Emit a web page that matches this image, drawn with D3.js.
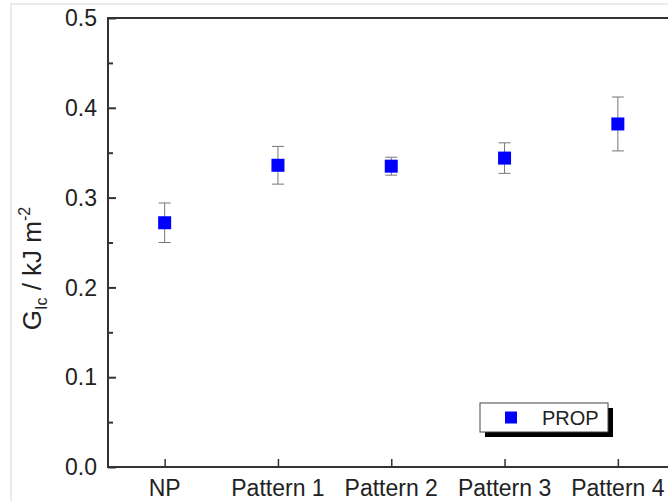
<!DOCTYPE html>
<html>
<head>
<meta charset="utf-8">
<script src="https://cdn.jsdelivr.net/npm/d3@7"></script>
<style>
  body { margin: 0; background: #fff; }
  svg { display: block; font-family: "Liberation Sans", Arial, sans-serif; }
</style>
</head>
<body>
<svg id="chart" width="668" height="501"></svg>
<script>
// data
const categories = ["NP", "Pattern 1", "Pattern 2", "Pattern 3", "Pattern 4"];
const values = [0.272, 0.336, 0.335, 0.344, 0.382];
const errors = [0.022, 0.021, 0.010, 0.017, 0.030];
const yTicks = [0.0, 0.1, 0.2, 0.3, 0.4, 0.5];
const yMinor = [0.05, 0.15, 0.25, 0.35, 0.45];
const seriesName = "PROP";

const svg = d3.select("#chart");

const mLeft = 108, mTop = 18, mBottom = 467, step = 113.3;
const mRight = mLeft + step * categories.length;

const x = d3.scalePoint().domain(categories).range([mLeft, mRight]).padding(0.5);
const y = d3.scaleLinear().domain([0, 0.5]).range([mBottom, mTop]);

// faint outer picture frame
svg.append("rect")
    .attr("x", 11).attr("y", 4)
    .attr("width", 700).attr("height", 600)
    .attr("fill", "none").attr("stroke", "#d8d8d8").attr("stroke-width", 1);

// y axis (ticks pointing inside)
const yAxis = svg.append("g")
    .attr("transform", `translate(${mLeft},0)`)
    .call(d3.axisRight(y).tickValues(yTicks).tickSize(8).tickFormat(""));
yAxis.select(".domain").remove();
yAxis.selectAll("line").attr("stroke", "#333").attr("stroke-width", 2);

const yMin = svg.append("g")
    .attr("transform", `translate(${mLeft},0)`)
    .call(d3.axisRight(y).tickValues(yMinor).tickSize(5).tickFormat(""));
yMin.select(".domain").remove();
yMin.selectAll("line").attr("stroke", "#333").attr("stroke-width", 2);

svg.append("g").selectAll("text")
    .data(yTicks)
    .join("text")
    .attr("x", 97)
    .attr("y", d => y(d))
    .attr("dy", "0.36em")
    .attr("text-anchor", "end")
    .attr("font-size", 23)
    .attr("fill", "#222")
    .text(d3.format(".1f"));

// x axis (ticks pointing up)
const xAxis = svg.append("g")
    .attr("transform", `translate(0,${mBottom})`)
    .call(d3.axisTop(x).tickSize(8).tickFormat(""));
xAxis.select(".domain").remove();
xAxis.selectAll("line").attr("stroke", "#333").attr("stroke-width", 1.5);

svg.append("g").selectAll("text")
    .data(categories)
    .join("text")
    .attr("x", d => x(d))
    .attr("y", 496)
    .attr("text-anchor", "middle")
    .attr("font-size", 23)
    .attr("fill", "#222")
    .text(d => d);

// frame: left, top, bottom
svg.append("path")
    .attr("d", `M${mRight + 20},${mTop}H${mLeft}V${mBottom}H${mRight + 20}`)
    .attr("fill", "none").attr("stroke", "#333").attr("stroke-width", 2);

// y label
const yl = svg.append("text")
    .attr("transform", `translate(41,${(mTop + mBottom) / 2 + 26}) rotate(-90)`)
    .attr("text-anchor", "middle")
    .attr("font-size", 26)
    .attr("fill", "#222");
yl.append("tspan").text("G");
yl.append("tspan").attr("font-size", 16).attr("dy", 6).text("Ic");
yl.append("tspan").attr("dy", -6).text(" / kJ m");
yl.append("tspan").attr("font-size", 16).attr("dy", -11).text("-2");

// error bars
const pts = categories.map((c, i) => ({ c, v: values[i], e: errors[i] }));
const eb = svg.append("g").attr("stroke", "#777").attr("stroke-width", 1);
eb.selectAll("line.v").data(pts).join("line").attr("class", "v")
    .attr("x1", d => x(d.c)).attr("x2", d => x(d.c))
    .attr("y1", d => y(d.v - d.e)).attr("y2", d => y(d.v + d.e));
eb.selectAll("line.t").data(pts).join("line").attr("class", "t")
    .attr("x1", d => x(d.c) - 6).attr("x2", d => x(d.c) + 6)
    .attr("y1", d => y(d.v + d.e)).attr("y2", d => y(d.v + d.e));
eb.selectAll("line.b").data(pts).join("line").attr("class", "b")
    .attr("x1", d => x(d.c) - 6).attr("x2", d => x(d.c) + 6)
    .attr("y1", d => y(d.v - d.e)).attr("y2", d => y(d.v - d.e));

// markers
svg.append("g").selectAll("rect")
    .data(pts)
    .join("rect")
    .attr("x", d => x(d.c) - 6.5)
    .attr("y", d => y(d.v) - 6.5)
    .attr("width", 13).attr("height", 13)
    .attr("fill", "#0000ff");

// legend
const lg = svg.append("g").attr("transform", "translate(480,403)");
lg.append("rect").attr("x", 5).attr("y", 5).attr("width", 128).attr("height", 29).attr("fill", "#000");
lg.append("rect").attr("width", 128).attr("height", 29).attr("fill", "#fff").attr("stroke", "#444").attr("stroke-width", 1);
lg.append("rect").attr("x", 25).attr("y", 8.5).attr("width", 12).attr("height", 12).attr("fill", "#0000ff");
lg.append("text").attr("x", 62).attr("y", 22).attr("font-size", 20).attr("fill", "#222").text(seriesName);
</script>
</body>
</html>
